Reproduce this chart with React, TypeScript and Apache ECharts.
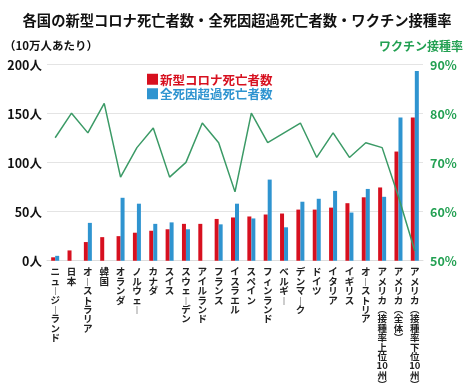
import React, { useEffect, useRef } from "react";
import * as echarts from "echarts";

const categories = [
  "ニュージーランド", "日本", "オーストラリア", "韓国", "オランダ", "ノルウェー", "カナダ", "スイス",
  "スウェーデン", "アイルランド", "フランス", "イスラエル", "スペイン", "フィンランド", "ベルギー",
  "デンマーク", "ドイツ", "イタリア", "イギリス", "オーストリア",
  "アメリカ（接種率上位10州）", "アメリカ（全体）", "アメリカ（接種率下位10州）",
];
const covidDeaths = [3.5, 10.5, 19, 24, 25, 28.5, 30.5, 32, 37.5, 37.5, 42.5, 44, 45, 47, 48, 52, 52, 54, 58.5, 64.5, 74.5, 111, 145.5];
const excessDeaths = [5, null, 38.5, null, 64, 58, 37.5, 39, 32, null, 37, 58, 43, 82.5, 34, 60, 63, 71, 49, 73, 65, 145.5, 193];
const vaccinationRate = [75, 80, 76, 82, 67, 73, 77, 67, 70, 78, 74, 64, 80, 74, 76, 78, 71, 76, 71, 74, 73, 63, 52];
const leftTicks = { min: 0, max: 200, interval: 50 };
const rightTicks = { min: 50, max: 90, interval: 10 };

const RED = "#d7101f";
const BLUE = "#2f94d0";
const GREEN_LINE = "#3b9a66";
const GREEN_TEXT = "#22a052";
const FONT = "'Noto Sans CJK JP', 'Noto Sans', sans-serif";

function toVertical(s: string): string {
  const tokens = s.match(/\d+|./gu) || [];
  return tokens
    .map((t) => (t === "ー" ? "︱" : t === "（" ? "︵" : t === "）" ? "︶" : t))
    .join("\n");
}

export default function App() {
  const ref = useRef<HTMLDivElement>(null);
  useEffect(() => {
    if (!ref.current) return;
    const chart = echarts.init(ref.current, null, { renderer: "svg" });
    chart.setOption({
      animation: false,
      textStyle: { fontFamily: FONT },
      title: {
        text: "各国の新型コロナ死亡者数・全死因超過死亡者数・ワクチン接種率",
        left: "center",
        top: 7,
        textStyle: { fontSize: 14.3, fontWeight: "bold", color: "#111", fontFamily: FONT },
      },
      graphic: [
        {
          type: "text",
          left: 4,
          top: 39,
          style: { text: "（10万人あたり）", fontSize: 11.5, fontWeight: "bold", fill: "#111", fontFamily: FONT },
        },
        {
          type: "text",
          right: 11,
          top: 39,
          style: { text: "ワクチン接種率", fontSize: 12, fontWeight: "bold", fill: GREEN_TEXT, fontFamily: FONT },
        },
      ],
      legend: {
        orient: "vertical",
        left: 142,
        top: 68,
        itemGap: 2,
        itemWidth: 11,
        itemHeight: 11,
        icon: "rect",
        data: [
          { name: "新型コロナ死亡者数", textStyle: { color: RED } },
          { name: "全死因超過死亡者数", textStyle: { color: BLUE } },
        ],
        textStyle: { fontSize: 12.5, fontWeight: "bold", fontFamily: FONT, padding: [0, 0, 0, -3] },
      },
      grid: { left: 47, right: 51, top: 64, bottom: 128, containLabel: false },
      xAxis: {
        type: "category",
        data: categories,
        axisTick: { show: false },
        axisLine: { lineStyle: { color: "#dddddd" } },
        axisLabel: {
          interval: 0,
          margin: 6,
          formatter: (v: string) => toVertical(v),
          fontSize: 9.5,
          lineHeight: 9.4,
          color: "#222",
          fontWeight: "bold",
          verticalAlign: "top",
          fontFamily: FONT,
        },
      },
      yAxis: [
        {
          type: "value",
          ...leftTicks,
          axisLabel: {
            formatter: "{value}人",
            fontSize: 12.5,
            fontWeight: "bold",
            color: "#111",
            margin: 5,
            fontFamily: FONT,
          },
          splitLine: { lineStyle: { color: "#e4e4e4" } },
          axisLine: { show: false },
          axisTick: { show: false },
        },
        {
          type: "value",
          ...rightTicks,
          axisLabel: {
            formatter: "{value}%",
            fontSize: 12.5,
            fontWeight: "bold",
            color: GREEN_TEXT,
            margin: 7,
            fontFamily: FONT,
          },
          splitLine: { show: false },
          axisLine: { show: false },
          axisTick: { show: false },
        },
      ],
      series: [
        {
          name: "新型コロナ死亡者数",
          type: "bar",
          data: covidDeaths,
          barWidth: 4,
          barGap: "0%",
          itemStyle: { color: RED },
        },
        {
          name: "全死因超過死亡者数",
          type: "bar",
          data: excessDeaths,
          barWidth: 4,
          barGap: "0%",
          itemStyle: { color: BLUE },
        },
        {
          name: "ワクチン接種率",
          type: "line",
          yAxisIndex: 1,
          data: vaccinationRate,
          symbol: "none",
          lineStyle: { color: GREEN_LINE, width: 1.5 },
          itemStyle: { color: GREEN_LINE },
        },
      ],
    });
    return () => chart.dispose();
  }, []);
  return <div ref={ref} style={{ position: "fixed", left: 0, top: 0, width: 474, height: 389 }} />;
}
